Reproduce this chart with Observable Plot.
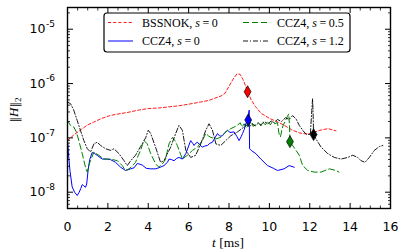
<!DOCTYPE html>
<html><head><meta charset="utf-8">
<script src="https://cdn.jsdelivr.net/npm/d3@7"></script>
<script src="https://cdn.jsdelivr.net/npm/@observablehq/plot@0.6"></script>
<style>
body{margin:0;background:#fff}
#chart{position:relative;width:407px;height:252px}
</style>
</head><body><div id="chart"></div>
<script>
// ---- data (t in ms, log10 of ||H||_2) ----
const bssnokT = [0,0.3,0.7,1.0,1.3,1.7,2.1,2.5,3.0,3.5,4.0,4.5,5.0,5.5,6.0,6.6,7.0,7.3,7.6,7.8,8.0,8.2,8.4,8.55,8.7,8.9,9.1,9.3,9.6,10.0,10.3,10.7,11.1,11.5,11.9,12.2,12.5,12.9,13.3];
const bssnokLogH = [-7.05,-6.95,-6.84,-6.76,-6.71,-6.64,-6.59,-6.56,-6.53,-6.49,-6.46,-6.45,-6.43,-6.41,-6.38,-6.34,-6.31,-6.27,-6.23,-6.18,-6.05,-5.92,-5.82,-5.83,-5.93,-6.12,-6.3,-6.42,-6.55,-6.64,-6.69,-6.76,-6.85,-6.91,-6.93,-6.9,-6.86,-6.83,-6.87];

const ccz4s0T = [0,0.05,0.12,0.23,0.35,0.48,0.58,0.66,0.73,0.8,0.89,0.95,1.02,1.1,1.22,1.35,1.5,1.72,1.95,2.13,2.38,2.63,2.88,3.13,3.3,3.46,3.7,3.9,4.1,4.37,4.6,4.78,4.95,5.03,5.15,5.28,5.4,5.52,5.69,5.86,6.0,6.1,6.2,6.27,6.35,6.44,6.55,6.68,6.8,6.93,7.05,7.18,7.3,7.43,7.55,7.68,7.8,7.93,8.05,8.25,8.4,8.5,8.6,8.67,8.75,8.83,8.9,8.95,9.0,9.02,9.1,9.33,9.58,9.91,10.2,10.4,10.73,10.98,11.23];
const ccz4s0LogH = [-7.02,-7.3,-7.6,-7.9,-8.0,-8.06,-8.0,-7.93,-7.86,-7.88,-7.91,-7.85,-7.6,-7.4,-7.27,-7.29,-7.33,-7.39,-7.39,-7.4,-7.45,-7.54,-7.6,-7.57,-7.55,-7.47,-7.5,-7.56,-7.57,-7.57,-7.54,-7.51,-7.45,-7.39,-7.4,-7.42,-7.38,-7.36,-7.39,-7.29,-7.15,-7.05,-7.1,-7.14,-7.1,-7.08,-7.13,-7.17,-7.15,-7.14,-7.1,-7.08,-7.0,-6.92,-6.97,-6.96,-6.9,-6.86,-6.9,-6.89,-6.98,-7.05,-6.98,-6.92,-6.85,-6.74,-6.7,-6.6,-6.49,-7.2,-7.23,-7.29,-7.39,-7.51,-7.56,-7.6,-7.57,-7.51,-7.54];

const ccz4s05T = [0,0.15,0.31,0.45,0.56,0.73,0.89,0.98,1.06,1.14,1.31,1.55,1.8,2.13,2.47,2.71,2.88,3.05,3.2,3.37,3.5,3.62,3.72,3.79,3.95,4.12,4.37,4.53,4.7,4.85,5.03,5.2,5.32,5.44,5.6,5.69,5.94,6.19,6.44,6.68,6.85,7.0,7.1,7.35,7.59,7.84,8.09,8.42,8.55,8.65,8.75,8.85,9.0,9.1,9.2,9.3,9.45,9.58,9.7,9.8,9.91,10.05,10.15,10.24,10.4,10.48,10.55,10.65,10.8,10.9,10.96,11.0,11.02,11.32,11.48,11.65,11.9,12.22,12.56,12.97,13.3,13.45];
const ccz4s05LogH = [-6.68,-6.77,-6.8,-6.9,-7.05,-7.29,-7.54,-7.63,-7.5,-7.42,-7.26,-7.32,-7.39,-7.39,-7.42,-7.51,-7.6,-7.57,-7.52,-7.45,-7.33,-7.23,-7.12,-7.05,-7.11,-7.29,-7.48,-7.54,-7.48,-7.4,-7.11,-6.99,-7.05,-7.14,-7.3,-7.39,-7.32,-7.23,-7.17,-7.05,-6.92,-6.97,-6.99,-7.02,-6.99,-6.89,-6.83,-6.77,-6.72,-6.8,-6.74,-6.82,-6.76,-6.7,-6.79,-6.75,-6.72,-6.78,-6.72,-6.76,-6.7,-6.76,-6.7,-6.74,-6.72,-6.93,-6.98,-6.8,-6.68,-6.6,-6.56,-6.8,-7.07,-7.23,-7.32,-7.51,-7.6,-7.63,-7.63,-7.57,-7.6,-7.63];

const ccz4s12T = [0,0.15,0.31,0.48,0.64,0.81,0.98,1.14,1.31,1.47,1.64,1.89,2.13,2.3,2.55,2.8,2.96,3.13,3.37,3.62,3.87,4.0,4.12,4.37,4.61,4.78,4.86,5.11,5.36,5.52,5.69,5.86,6.1,6.35,6.6,6.85,7.01,7.18,7.35,7.59,7.84,8.09,8.42,8.6,8.75,8.9,9.0,9.15,9.3,9.45,9.58,9.75,9.91,10.1,10.24,10.4,10.6,10.8,10.98,11.15,11.32,11.48,11.65,11.81,12.03,12.1,12.14,12.17,12.19,12.31,12.56,12.89,13.22,13.55,13.88,14.13,14.38,14.54,14.74,14.95,15.2,15.45,15.62];
const ccz4s12LogH = [-6.34,-6.37,-6.49,-6.68,-6.86,-7.05,-7.2,-7.26,-7.11,-7.08,-7.14,-7.2,-7.23,-7.2,-7.29,-7.42,-7.51,-7.42,-7.32,-7.16,-7.0,-6.86,-6.92,-7.18,-7.45,-7.42,-7.36,-7.17,-6.92,-6.77,-6.86,-7.23,-7.36,-7.32,-7.11,-6.86,-6.74,-6.86,-7.11,-7.14,-7.05,-6.96,-6.89,-6.84,-6.8,-6.76,-6.8,-6.74,-6.78,-6.73,-6.76,-6.7,-6.74,-6.69,-6.72,-6.66,-6.7,-6.63,-6.66,-6.59,-6.65,-6.77,-6.86,-6.93,-6.94,-6.5,-6.28,-6.6,-6.94,-7.02,-7.17,-7.29,-7.36,-7.39,-7.36,-7.32,-7.36,-7.42,-7.45,-7.36,-7.23,-7.16,-7.14];

const markerT = [8.92, 8.95, 11.02, 12.19];
const markerLogH = [-6.15, -6.67, -7.07, -6.94];
const markerColor = ["#ff0000", "#0000ff", "#008000", "#000000"];

const xTicks = [0, 2, 4, 6, 8, 10, 12, 14, 16];
const xMinorTicks = [0.5,1,1.5,2.5,3,3.5,4.5,5,5.5,6.5,7,7.5,8.5,9,9.5,10.5,11,11.5,12.5,13,13.5,14.5,15,15.5];
const yExponents = [-8, -7, -6, -5];
const yMinorMultipliers = [2, 3, 4, 5, 6, 7, 8, 9];

const seriesLabels = ["BSSNOK", "CCZ4", "CCZ4", "CCZ4"];
const seriesS = ["0", "0", "0.5", "1.2"];

// ---- build ----
const seriesDefs = [
  {t: bssnokT, l: bssnokLogH, stroke: "#ff0000", dash: "3,2.2", w: 0.9},
  {t: ccz4s0T, l: ccz4s0LogH, stroke: "#0000ff", dash: null, w: 1},
  {t: ccz4s05T, l: ccz4s05LogH, stroke: "#008000", dash: "6,3", w: 1},
  {t: ccz4s12T, l: ccz4s12LogH, stroke: "#000000", dash: "5,2,1,2", w: 0.9}
];
const yMajor = yExponents.map(e => 10 ** e);
const yMinor = [];
for (const e of [-9, ...yExponents]) for (const m of yMinorMultipliers) {
  const v = m * 10 ** e;
  if (v > 10 ** -8.3 && v < 10 ** -4.6) yMinor.push(v);
}
const markers = markerT.map((t, i) => ({t, h: 10 ** markerLogH[i], c: markerColor[i]}));

const marks = [];
for (const s of seriesDefs) {
  marks.push(Plot.line(s.t.map((t, i) => ({t, h: 10 ** s.l[i]})), {
    x: "t", y: "h", stroke: s.stroke, strokeWidth: s.w,
    strokeDasharray: s.dash, strokeLinejoin: "round"
  }));
}
marks.push(Plot.dot(markers, {x: "t", y: "h", symbol: "diamond", r: 3.6, fill: "c", stroke: "black", strokeWidth: 0.7}));
// ticks, inward, on all four sides
for (const anchor of ["bottom", "top"]) {
  marks.push(Plot.axisX(xTicks, {anchor, tickSize: -5, fill: "none", strokeWidth: 1}));
  marks.push(Plot.axisX(xMinorTicks, {anchor, tickSize: -2.5, fill: "none", strokeWidth: 0.8}));
}
for (const anchor of ["left", "right"]) {
  marks.push(Plot.axisY(yMajor, {anchor, tickSize: -6, fill: "none", strokeWidth: 1}));
  marks.push(Plot.axisY(yMinor, {anchor, tickSize: -3, fill: "none", strokeWidth: 0.8}));
}
marks.push(Plot.text(xTicks, {x: d => d, frameAnchor: "bottom", dy: 14, text: d => String(d), lineAnchor: "top", fontSize: 12.5, fill: "black"}));
marks.push(Plot.text(yMajor, {y: d => d, frameAnchor: "left", dx: -22, text: () => "10", textAnchor: "end", fontSize: 12.5, fill: "black"}));
marks.push(Plot.text(yExponents, {y: e => 10 ** e, frameAnchor: "left", dx: -21.5, dy: -5, text: e => String(e), textAnchor: "start", fontSize: 9, fill: "black"}));
marks.push(Plot.frame({stroke: "black", strokeWidth: 1.4}));

const plot = Plot.plot({
  width: 407, height: 252,
  marginLeft: 67, marginRight: 17, marginTop: 7, marginBottom: 44,
  x: {domain: [0, 16], label: null},
  y: {type: "log", domain: [10 ** -8.3, 10 ** -4.6], label: null},
  style: {fontFamily: "DejaVu Sans, sans-serif", fontSize: "12px", background: "white", color: "black", overflow: "visible"},
  marks
});
document.getElementById("chart").appendChild(plot);

// ---- axis titles & legend ----
const svg = d3.select(plot);
const serif = "'Liberation Serif', 'DejaVu Serif', serif";
const xl = svg.append("text").attr("x", 228).attr("y", 247).attr("text-anchor", "middle")
  .attr("font-family", serif).attr("font-size", 13.5).attr("fill", "black");
xl.append("tspan").attr("font-style", "italic").text("t");
xl.append("tspan").text(" [ms]");

const yl = svg.append("text").attr("transform", "translate(18,110) rotate(-90)").attr("text-anchor", "middle")
  .attr("font-family", serif).attr("font-size", 13).attr("fill", "black");
yl.append("tspan").attr("font-family", "'DejaVu Serif', serif").attr("font-size", 11).text("\u2016");
yl.append("tspan").attr("font-style", "italic").text("H");
yl.append("tspan").attr("font-family", "'DejaVu Serif', serif").attr("font-size", 11).text("\u2016");
yl.append("tspan").attr("font-size", 9).attr("dy", 3).text("2");

const lg = svg.append("g");
lg.append("rect").attr("x", 104).attr("y", 13).attr("width", 246).attr("height", 39).attr("rx", 3)
  .attr("fill", "white").attr("stroke", "black").attr("stroke-width", 1.2);
const cols = [108, 108, 243, 243];
const rows = [22.5, 41, 22.5, 41];
seriesDefs.forEach((s, i) => {
  lg.append("line").attr("x1", cols[i]).attr("x2", cols[i] + 25).attr("y1", rows[i]).attr("y2", rows[i])
    .attr("stroke", s.stroke).attr("stroke-width", s.w).attr("stroke-dasharray", s.dash);
  const t = lg.append("text").attr("x", cols[i] + 34).attr("y", rows[i] + 4).attr("text-anchor", "start")
    .attr("font-family", serif).attr("font-size", 12).attr("fill", "black");
  t.append("tspan").text(seriesLabels[i] + ", ");
  t.append("tspan").attr("font-style", "italic").text("s");
  t.append("tspan").attr("dx", 2.5).text("=");
  t.append("tspan").attr("dx", 2.5).text(seriesS[i]);
});
</script>
</body></html>
